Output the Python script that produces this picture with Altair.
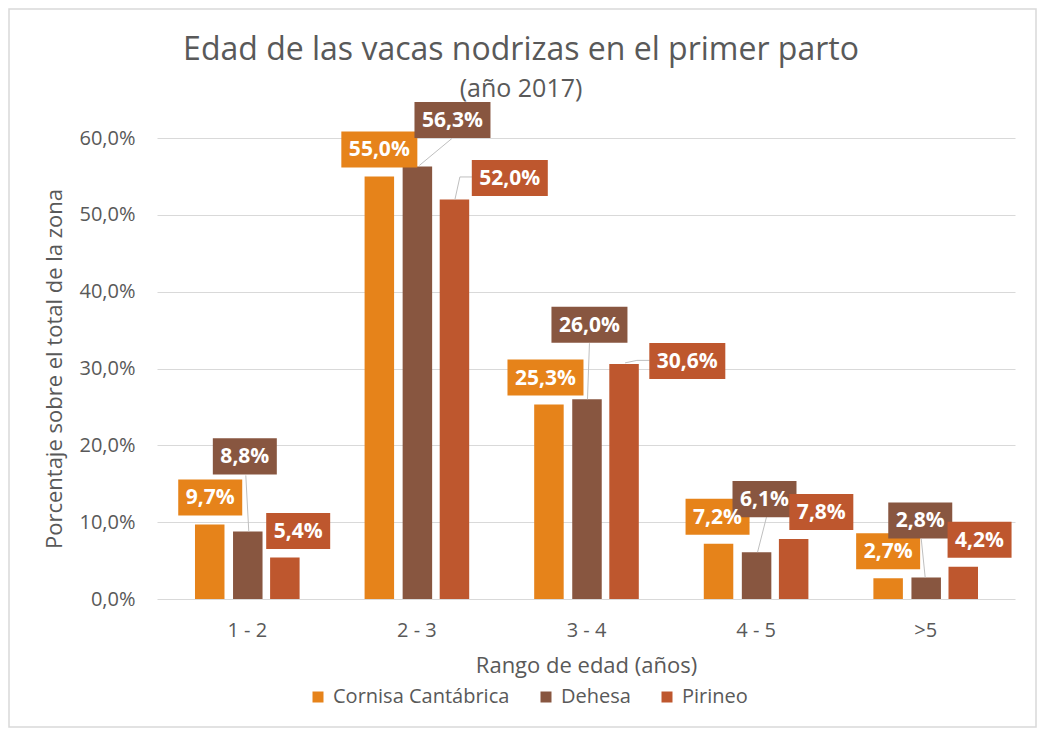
import json
import altair as alt
import pandas as pd

# ---- data ----
categories = ["1 - 2", "2 - 3", "3 - 4", "4 - 5", ">5"]
series = ["Cornisa Cantábrica", "Dehesa", "Pirineo"]
colors = ["#E6831A", "#885640", "#BE572E"]
cornisa = [9.7, 55.0, 25.3, 7.2, 2.7]
dehesa = [8.8, 56.3, 26.0, 6.1, 2.8]
pirineo = [5.4, 52.0, 30.6, 7.8, 4.2]

# label box offsets from the bar top (pixels, dx right / dy up negative)
cornisa_lbl = [(0.5, -27), (0, -27), (-3.5, -27), (-1, -27), (0, -27)]
dehesa_lbl = [(-3, -75), (35.5, -46.5), (2.5, -74.5), (8, -53), (-6, -57)]
pirineo_lbl = [(13.5, -26.5), (56, -21.5), (64, -3), (28, -27), (16.5, -27)]

# leader lines: (series, category index, polyline offsets from bar top in px)
leaders = [
    ("Dehesa", 0, [(-2, -56), (1, 0)]),
    ("Dehesa", 1, [(35, -28), (2, -1)]),
    ("Pirineo", 1, [(18.5, -22.5), (5.5, -22.5), (0.5, 0)]),
    ("Dehesa", 2, [(2.5, -56), (0.5, 0)]),
    ("Pirineo", 2, [(26, -3.5), (13, -3.5), (1, -1)]),
    ("Dehesa", 3, [(10, -35), (1, 0)]),
    ("Dehesa", 4, [(-5, -38.5), (-1, 0)]),
]

# ---- layout / styles ----
W, H = 858, 461
XMIN, XMAX = -0.5, 4.5
YMAX = 60
PX_X = W / (XMAX - XMIN)
PX_Y = H / YMAX
series_off_px = [-37.5, 1.0, 38.5]
GREY = "#595959"
FONT = "Open Sans"

values = {"Cornisa Cantábrica": cornisa, "Dehesa": dehesa, "Pirineo": pirineo}
lbls = {"Cornisa Cantábrica": cornisa_lbl, "Dehesa": dehesa_lbl, "Pirineo": pirineo_lbl}

rows = []
for si, s in enumerate(series):
    for ci, c in enumerate(categories):
        v = values[s][ci]
        xpos = ci + series_off_px[si] / PX_X
        dx, dy = lbls[s][ci]
        txt = f"{v:.1f}".replace(".", ",") + "%"
        rows.append(
            dict(
                serie=s,
                cat=c,
                value=v,
                xpos=xpos,
                lx=xpos + dx / PX_X,
                ly=v - dy / PX_Y,
                label=txt,
                w="l" if len(txt) >= 5 else "s",
                order=si,
            )
        )
df = pd.DataFrame(rows)

seg_rows = []
for s, ci, pts in leaders:
    si = series.index(s)
    v = values[s][ci]
    xb = ci + series_off_px[si] / PX_X
    for (ax, ay), (bx, by) in zip(pts[:-1], pts[1:]):
        seg_rows.append(
            dict(
                x=xb + ax / PX_X,
                y=v - ay / PX_Y,
                x2=xb + bx / PX_X,
                y2=v - by / PX_Y,
            )
        )
segs = pd.DataFrame(seg_rows)

xscale = alt.Scale(domain=[XMIN, XMAX], nice=False, zero=False)
yscale = alt.Scale(domain=[0, YMAX], nice=False)
cscale = alt.Scale(domain=series, range=colors)

label_expr = json.dumps(categories) + "[datum.value]"

bars = (
    alt.Chart(df)
    .mark_bar(size=29.5, orient="vertical")
    .encode(
        x=alt.X(
            "xpos:Q",
            scale=xscale,
            axis=alt.Axis(
                values=list(range(len(categories))),
                labelExpr=label_expr,
                grid=False,
                ticks=False,
                domain=False,
                labelPadding=21,
                title="Rango de edad (años)",
                titlePadding=15,
            ),
        ),
        y=alt.Y(
            "value:Q",
            scale=yscale,
            axis=alt.Axis(
                values=list(range(0, 61, 10)),
                labelExpr="replace(format(datum.value, '.1f'), '.', ',') + '%'",
                grid=True,
                ticks=False,
                domain=False,
                labelPadding=22,
                title="Porcentaje sobre el total de la zona",
                titlePadding=12,
            ),
        ),
        color=alt.Color(
            "serie:N",
            scale=cscale,
            sort=series,
            legend=alt.Legend(
                title=None,
                orient="none",
                direction="horizontal",
                legendX=151,
                legendY=549,
                symbolType="square",
                symbolSize=121,
                symbolStrokeWidth=0,
                labelFont=FONT,
                labelFontSize=20,
                labelColor=GREY,
                labelOffset=5,
                labelLimit=0,
                columnPadding=26,
                padding=0,
            ),
        ),
    )
)

lines = (
    alt.Chart(segs)
    .mark_rule(color="#bfbfbf", strokeWidth=1)
    .encode(
        x=alt.X("x:Q", scale=xscale),
        y=alt.Y("y:Q", scale=yscale),
        x2="x2:Q",
        y2="y2:Q",
    )
)

p5 = "M-1,-0.474H1V0.474H-1Z"
p4 = "M-0.842,-0.474H0.842V0.474H-0.842Z"

boxes = (
    alt.Chart(df)
    .mark_point(filled=True, opacity=1, strokeWidth=0, size=5776)
    .encode(
        x=alt.X("lx:Q", scale=xscale),
        y=alt.Y("ly:Q", scale=yscale),
        color=alt.Color("serie:N", scale=cscale, legend=None),
        shape=alt.Shape("w:N", scale=alt.Scale(domain=["s", "l"], range=[p4, p5]), legend=None),
    )
)

texts = (
    alt.Chart(df)
    .mark_text(font=FONT, fontWeight="bold", fontSize=21, color="white", align="center", baseline="middle", dy=1)
    .encode(
        x=alt.X("lx:Q", scale=xscale),
        y=alt.Y("ly:Q", scale=yscale),
        text="label:N",
    )
)

frame = (
    alt.Chart(pd.DataFrame({"k": [0]}))
    .mark_rect(fill=None, stroke="#d9d9d9", strokeWidth=1.5)
    .encode(x=alt.value(-148), x2=alt.value(879), y=alt.value(-129), y2=alt.value(589))
)

chart = (
    alt.layer(frame, bars, lines, boxes, texts)
    .properties(
        width=W,
        height=H,
        autosize=alt.AutoSizeParams(type="none"),
        padding={"left": 149, "top": 130, "right": 22, "bottom": 131},
        background="white",
        title=alt.TitleParams(
            text="Edad de las vacas nodrizas en el primer parto",
            subtitle="(año 2017)",
            font=FONT,
            fontSize=32,
            fontWeight="normal",
            color=GREY,
            subtitleFont=FONT,
            subtitleFontSize=25,
            subtitleColor=GREY,
            subtitlePadding=10,
            anchor="middle",
            dx=-65,
            offset=-95,
        ),
    )
    .configure_view(stroke=None)
    .configure_axis(
        labelFont=FONT,
        labelFontSize=20,
        labelColor=GREY,
        titleFont=FONT,
        titleFontSize=22,
        titleFontWeight="normal",
        titleColor=GREY,
        gridColor="#d9d9d9",
        gridWidth=1,
    )
)

chart.save("out.html", embed_options={"renderer": "svg", "actions": False})
